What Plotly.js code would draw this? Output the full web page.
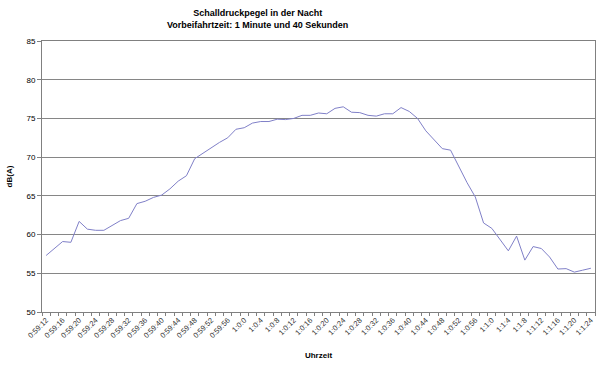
<!DOCTYPE html>
<html>
<head>
<meta charset="utf-8">
<script src="https://cdn.plot.ly/plotly-3.0.1.min.js"></script>
<style>
html,body{margin:0;padding:0;background:#fff;}
#chart{width:599px;height:365px;}
</style>
</head>
<body>
<div id="chart"></div>
<script>
// Time labels (every 2 seconds)
var timeLabels = [
  "0:59:12","0:59:14","0:59:16","0:59:18","0:59:20","0:59:22","0:59:24","0:59:26","0:59:28","0:59:30",
  "0:59:32","0:59:34","0:59:36","0:59:38","0:59:40","0:59:42","0:59:44","0:59:46","0:59:48","0:59:50",
  "0:59:52","0:59:54","0:59:56","0:59:58","1:0:0","1:0:2","1:0:4","1:0:6","1:0:8","1:0:10",
  "1:0:12","1:0:14","1:0:16","1:0:18","1:0:20","1:0:22","1:0:24","1:0:26","1:0:28","1:0:30",
  "1:0:32","1:0:34","1:0:36","1:0:38","1:0:40","1:0:42","1:0:44","1:0:46","1:0:48","1:0:50",
  "1:0:52","1:0:54","1:0:56","1:0:58","1:1:0","1:1:2","1:1:4","1:1:6","1:1:8","1:1:10",
  "1:1:12","1:1:14","1:1:16","1:1:18","1:1:20","1:1:22","1:1:24"
];
// Sound pressure level dB(A)
var dbValues = [
  57.3, 58.2, 59.1, 59.0, 61.7, 60.7, 60.55, 60.55, 61.15, 61.8,
  62.1, 64.0, 64.3, 64.8, 65.1, 65.9, 66.9, 67.6, 69.8, 70.5,
  71.3, 71.9, 72.5, 73.6, 73.8, 74.4, 74.6, 74.6, 74.9, 74.85,
  75.0, 75.4, 75.4, 75.7, 75.6, 76.3, 76.5, 75.8, 75.75, 75.4,
  75.3, 75.6, 75.6, 76.4, 75.9, 75.0, 73.4, 72.2, 71.1, 70.9,
  68.8, 66.7, 64.85, 61.5, 60.8, 59.3, 57.9, 59.8, 56.7, 58.45,
  58.2, 57.1, 55.55, 55.6, 55.15, 55.4, 55.65
];
var yTickValues = [50, 55, 60, 65, 70, 75, 80, 85];

var idx = timeLabels.map(function(_, i){ return i; });
var labelIdx = idx.filter(function(i){ return i % 2 === 0; });
var labelText = labelIdx.map(function(i){ return timeLabels[i]; });

var trace = {
  x: idx,
  y: dbValues,
  type: 'scatter',
  mode: 'lines',
  line: {color: '#8080c8', width: 1},
  hoverinfo: 'skip'
};

var font = "'Liberation Sans', Arial, sans-serif";
var layout = {
  width: 599, height: 365,
  margin: {l: 42, r: 4, t: 41, b: 53, pad: 0},
  paper_bgcolor: '#ffffff',
  plot_bgcolor: '#ffffff',
  showlegend: false,
  font: {family: font, size: 8, color: '#000'},
  title: {
    text: '<b>Schalldruckpegel in der Nacht</b><br><b>Vorbeifahrtzeit: 1 Minute und 40 Sekunden</b>',
    font: {family: font, size: 9, color: '#000'},
    x: 0.39, xanchor: 'center', xref: 'paper',
    y: 0.955, yanchor: 'middle', yref: 'container'
  },
  xaxis: {
    range: [-0.5, idx.length - 0.5],
    tickmode: 'array',
    tickvals: labelIdx,
    ticktext: labelText,
    tickangle: -45,
    ticks: '',
    showgrid: false,
    zeroline: false,
    showline: true,
    linecolor: '#808080',
    linewidth: 1,
    mirror: true,
    tickfont: {family: font, size: 7.5, color: '#333'},
    minor: {tickmode: 'linear', tick0: -0.5, dtick: 1, ticks: 'outside', ticklen: 3, tickcolor: '#808080', tickwidth: 1, showgrid: false},
    title: {text: '<b>Uhrzeit</b>', font: {family: font, size: 8, color: '#000'}, standoff: 13},
    fixedrange: true
  },
  yaxis: {
    range: [50, 85],
    tickmode: 'array',
    tickvals: yTickValues,
    ticks: 'outside',
    ticklen: 4,
    tickcolor: '#808080',
    showgrid: true,
    gridcolor: '#868686',
    gridwidth: 1,
    zeroline: false,
    showline: true,
    linecolor: '#808080',
    linewidth: 1,
    mirror: true,
    tickfont: {family: font, size: 8, color: '#000'},
    title: {text: '<b>dB(A)</b>', font: {family: font, size: 8, color: '#000'}, standoff: 12},
    fixedrange: true
  }
};

Plotly.newPlot('chart', [trace], layout, {staticPlot: true, displayModeBar: false});
</script>
</body>
</html>
